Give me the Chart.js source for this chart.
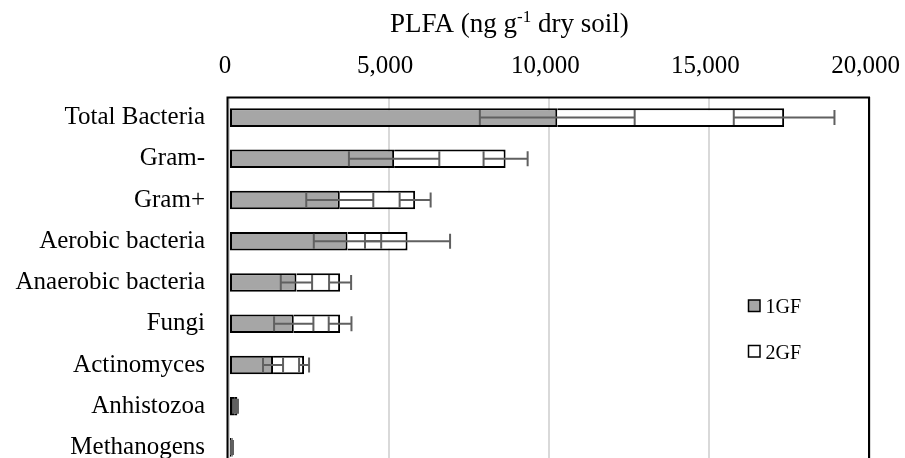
<!DOCTYPE html>
<html>
<head>
<meta charset="utf-8">
<script src="https://cdn.jsdelivr.net/npm/chart.js@4.4.0/dist/chart.umd.min.js"></script>
<style>
html, body { margin: 0; padding: 0; overflow: hidden; background: #fff; }
#wrap { width: 905px; height: 480px; position: relative; }
</style>
</head>
<body>
<div id="wrap"><canvas id="c" width="905" height="480"></canvas></div>
<script>
// ---- data ----
const categories = ["Total Bacteria", "Gram-", "Gram+", "Aerobic bacteria", "Anaerobic bacteria", "Fungi", "Actinomyces", "Anhistozoa", "Methanogens"];
const seriesNames = ["1GF", "2GF"];
const gf1 = [10250, 5156, 3459, 3700, 2106, 2022, 1375, 160, 80];
const gf2 = [7084, 3481, 2353, 1875, 1363, 1447, 969, 100, 35];
const gf1Err = [2417, 1411, 1047, 1052, 489, 614, 313, 30, 15];
const gf2Err = [1572, 688, 484, 1328, 344, 355, 156, 20, 10];
const xTicks = [0, 5000, 10000, 15000, 20000];
const axisTitleMain = "PLFA (ng g";
const axisTitleSup = "-1";
const axisTitleEnd = " dry soil)";

const FONT = "'Liberation Serif', 'Times New Roman', serif";

function noPad(s) { s.paddingLeft = 0; s.paddingRight = 0; s.paddingTop = 0; s.paddingBottom = 0; }

const frameAndErrors = {
  id: 'frameAndErrors',
  afterDatasetsDraw(chart) {
    const ctx = chart.ctx;
    const xs = chart.scales.x;
    const ys = chart.scales.y;
    ctx.save();
    // error bars
    ctx.strokeStyle = '#606060';
    ctx.lineWidth = 2;
    const cap = 15;
    [[gf1Err, 0], [gf2Err, 1]].forEach(([errs, di]) => {
      categories.forEach((c, i) => {
        const end = di === 0 ? gf1[i] : gf1[i] + gf2[i];
        const yC = ys.getPixelForValue(i);
        const x1 = xs.getPixelForValue(end - errs[i]);
        const x2 = xs.getPixelForValue(end + errs[i]);
        ctx.beginPath();
        ctx.moveTo(x1, yC); ctx.lineTo(x2, yC);
        ctx.moveTo(x1, yC - cap / 2); ctx.lineTo(x1, yC + cap / 2);
        ctx.moveTo(x2, yC - cap / 2); ctx.lineTo(x2, yC + cap / 2);
        ctx.stroke();
      });
    });
    // plot frame
    const a = chart.chartArea;
    ctx.strokeStyle = '#000';
    ctx.lineWidth = 2;
    ctx.strokeRect(a.left - 1.5, a.top + 0.5, a.right - a.left + 1, a.bottom - a.top + 20);
    ctx.restore();
  },
  afterDraw(chart) {
    const ctx = chart.ctx;
    ctx.save();
    // axis title with superscript
    ctx.fillStyle = '#000';
    ctx.textBaseline = 'alphabetic';
    ctx.textAlign = 'left';
    const main = '27px ' + FONT, sup = '17px ' + FONT;
    ctx.font = main;
    const w1 = ctx.measureText(axisTitleMain).width;
    ctx.font = sup;
    const w2 = ctx.measureText(axisTitleSup).width;
    let x = 390;
    const base = 32;
    ctx.font = main;
    ctx.fillText(axisTitleMain, x, base);
    x += w1;
    ctx.font = sup;
    ctx.fillText(axisTitleSup, x, base - 10);
    x += w2;
    ctx.font = main;
    ctx.fillText(axisTitleEnd, x, base);
    // legend
    const items = [
      { label: seriesNames[0], fill: '#a6a6a6', y: 306 },
      { label: seriesNames[1], fill: '#ffffff', y: 351.5 }
    ];
    items.forEach(it => {
      ctx.fillStyle = it.fill;
      ctx.fillRect(748.5, it.y - 6, 11.5, 11.5);
      ctx.strokeStyle = '#000';
      ctx.lineWidth = 1.5;
      ctx.strokeRect(748.5, it.y - 6, 11.5, 11.5);
      ctx.fillStyle = '#000';
      ctx.font = '20px ' + FONT;
      ctx.textBaseline = 'alphabetic';
      ctx.fillText(it.label, 765.5, it.y + 7);
    });
    ctx.restore();
  }
};

new Chart(document.getElementById('c'), {
  type: 'bar',
  data: {
    labels: categories,
    datasets: [
      { label: seriesNames[0], data: gf1, backgroundColor: '#a6a6a6', borderColor: '#000', borderWidth: 2, borderSkipped: false },
      { label: seriesNames[1], data: gf2, backgroundColor: '#ffffff', borderColor: '#000', borderWidth: 2, borderSkipped: 'start' }
    ]
  },
  options: {
    indexAxis: 'y',
    responsive: false,
    animation: false,
    devicePixelRatio: 1,
    categoryPercentage: 1,
    barPercentage: 0.45,
    layout: { padding: { left: 0, right: 35.5, top: 0, bottom: 12 } },
    plugins: { legend: { display: false }, tooltip: { enabled: false }, title: { display: false } },
    scales: {
      x: {
        position: 'top',
        stacked: true,
        min: xTicks[0],
        max: xTicks[xTicks.length - 1],
        afterBuildTicks: s => { s.ticks = xTicks.map(v => ({ value: v })); },
        ticks: {
          callback: v => v.toLocaleString('en-US'),
          font: { family: FONT, size: 25 },
          color: '#000',
          padding: 16,
          labelOffset: -4,
          maxRotation: 0
        },
        grid: { color: '#d9d9d9', lineWidth: 2, drawTicks: false },
        border: { display: false },
        afterFit: s => { s.height = 97; noPad(s); }
      },
      y: {
        stacked: true,
        ticks: { font: { family: FONT, size: 25 }, color: '#000', padding: 24 },
        grid: { display: false, drawTicks: false },
        border: { display: false },
        afterFit: s => { s.width = 229; noPad(s); }
      }
    }
  },
  plugins: [frameAndErrors]
});
</script>
</body>
</html>
